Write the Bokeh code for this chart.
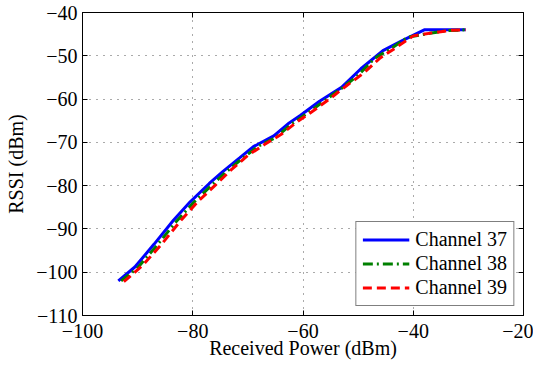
from bokeh.plotting import figure
from bokeh.models import LinearAxis, Range1d, FixedTicker, CustomJSTickFormatter, Legend, LegendItem
from bokeh.embed import file_html
from bokeh.resources import INLINE

# Data
ch37_x = [-93.5, -90.5, -87, -83.5, -80.5, -77, -74.5, -71.5, -69, -65.3, -62.5, -60.5, -57, -53, -49.5, -45.5, -42, -38, -34, -30.5]
ch37_y = [-102, -98.8, -93.5, -88, -83.8, -79.5, -76.7, -73.6, -71, -68.5, -65.5, -63.8, -60.5, -57.3, -53, -48.8, -46.5, -44, -44, -44]

ch38_x = [-93, -90, -86.5, -83, -80, -77, -74, -71, -68, -65, -62, -59, -56, -53, -50, -47, -44, -41, -37, -34, -30.5]
ch38_y = [-102, -99, -93.8, -88.3, -84.1, -80.4, -76.9, -73.7, -70.8, -68.9, -65.7, -63.1, -60.3, -57.5, -54.5, -50.6, -48.3, -45.7, -44.8, -44.2, -44]

ch39_x = [-92.5, -89, -85.5, -82, -79, -76, -73, -70, -67, -64, -61, -58, -55, -52, -49, -46, -43, -40, -36, -33, -30.5]
ch39_y = [-102.2, -98.3, -93.3, -87.8, -83.6, -80, -76.3, -73, -70.5, -68.2, -65.2, -62.6, -59.8, -56.8, -54, -50.5, -48, -45.4, -44.6, -44.1, -44]

x_ticks = [-100, -80, -60, -40, -20]
y_ticks = [-110, -100, -90, -80, -70, -60, -50, -40]

FONT = "Times"
FS = "20px"

p = figure(width=533, height=367, output_backend="svg", toolbar_location=None,
           x_range=Range1d(-100, -20), y_range=Range1d(-110, -40),
           min_border_left=82, min_border_right=10, min_border_top=12, min_border_bottom=52)

fmt = CustomJSTickFormatter(code="return tick.toString().replace('-', '\u2212');")
blank = CustomJSTickFormatter(code="return '';")

for ax in [p.xaxis[0], p.yaxis[0]]:
    ax.formatter = fmt
    ax.major_label_text_font = FONT
    ax.major_label_text_font_size = FS
    ax.major_label_text_color = "black"
    ax.axis_label_text_font = FONT
    ax.axis_label_text_font_size = FS
    ax.axis_label_text_font_style = "normal"
    ax.axis_label_text_color = "black"
    ax.major_tick_in = 5
    ax.major_tick_out = 0
    ax.minor_tick_line_color = None
    ax.axis_line_color = "black"
    ax.major_tick_line_color = "black"

p.xaxis[0].ticker = FixedTicker(ticks=x_ticks)
p.yaxis[0].ticker = FixedTicker(ticks=y_ticks)
p.xaxis[0].axis_label = "Received Power (dBm)"
p.yaxis[0].axis_label = "RSSI (dBm)"
p.xaxis[0].major_label_standoff = 8
p.xaxis[0].axis_label_standoff = -4
p.yaxis[0].major_label_standoff = 5
p.yaxis[0].axis_label_standoff = 6

for loc, ticks in [("right", y_ticks), ("above", x_ticks)]:
    ax = LinearAxis(ticker=FixedTicker(ticks=ticks), formatter=blank)
    ax.major_label_text_font_size = "1px"
    ax.major_label_standoff = 0
    ax.major_tick_in = 5
    ax.major_tick_out = 0
    ax.minor_tick_line_color = None
    ax.axis_line_color = "black"
    ax.major_tick_line_color = "black"
    p.add_layout(ax, loc)

p.xgrid.ticker = FixedTicker(ticks=x_ticks)
p.ygrid.ticker = FixedTicker(ticks=y_ticks)
for g in [p.xgrid[0], p.ygrid[0]]:
    g.grid_line_color = "#555555"
    g.grid_line_dash = "1 6"
    g.grid_line_width = 1

p.outline_line_color = "black"
p.background_fill_color = "white"
p.border_fill_color = "white"

r37 = p.line(ch37_x, ch37_y, line_color="#0000FF", line_width=3)
r38 = p.line(ch38_x, ch38_y, line_color="#008000", line_width=3, line_dash="10 4 2 4")
r39 = p.line(ch39_x, ch39_y, line_color="#FF0000", line_width=3, line_dash="9 5")

legend = Legend(items=[LegendItem(label="Channel 37", renderers=[r37]),
                       LegendItem(label="Channel 38", renderers=[r38]),
                       LegendItem(label="Channel 39", renderers=[r39])],
                location="bottom_right")
legend.label_text_font = FONT
legend.label_text_font_size = FS
legend.label_text_color = "black"
legend.glyph_width = 47
legend.glyph_height = 21
legend.label_standoff = 6
legend.label_height = 21
legend.spacing = 1
legend.padding = 6
legend.margin = 9
legend.border_line_color = "black"
legend.border_line_width = 1
legend.background_fill_alpha = 1
p.add_layout(legend, "center")

open("out.html", "w").write(file_html(p, INLINE))
